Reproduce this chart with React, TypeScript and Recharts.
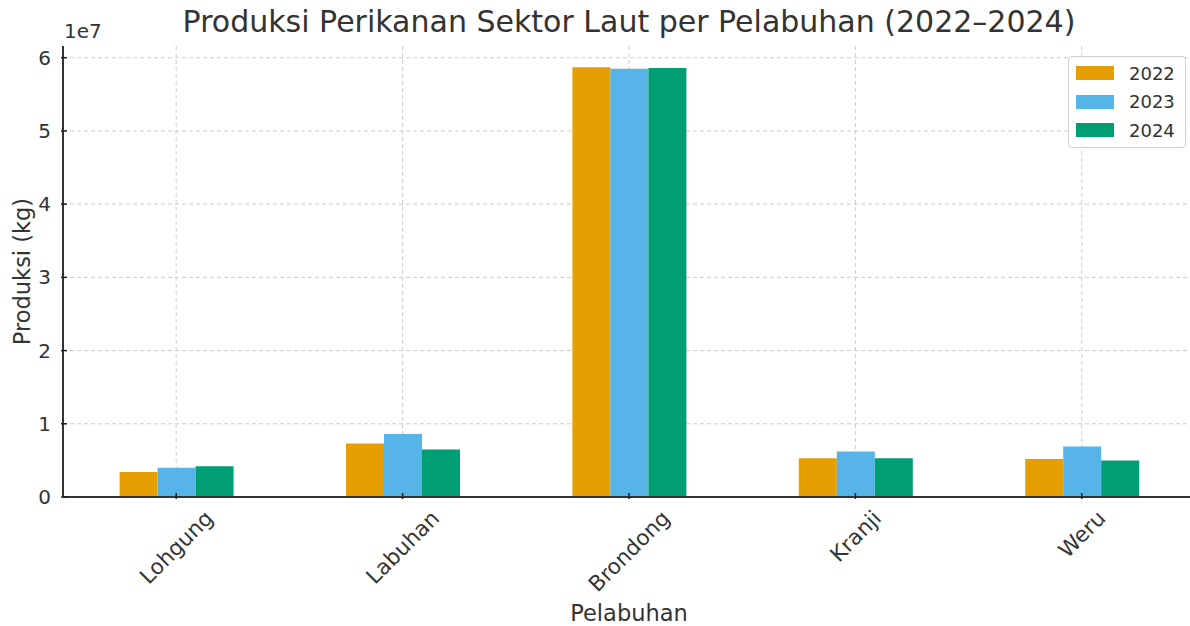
import { Bar, BarChart, CartesianGrid, Label, XAxis, YAxis } from 'recharts'

const PORTS = ['Lohgung', 'Labuhan', 'Brondong', 'Kranji', 'Weru']
const Y2022 = [3400000, 7300000, 58700000, 5300000, 5200000]
const Y2023 = [4000000, 8600000, 58500000, 6200000, 6900000]
const Y2024 = [4200000, 6500000, 58600000, 5300000, 5000000]
const Y_TICKS = [0, 10000000, 20000000, 30000000, 40000000, 50000000, 60000000]
const Y_MAX = 61600000

const SERIES = [
  { key: 'y2022', name: '2022', color: '#E69F00' },
  { key: 'y2023', name: '2023', color: '#56B4E9' },
  { key: 'y2024', name: '2024', color: '#009E73' },
]

const data = PORTS.map((port, i) => ({
  port,
  y2022: Y2022[i],
  y2023: Y2023[i],
  y2024: Y2024[i],
}))

const FONT = '"DejaVu Sans", sans-serif'
const TEXT = '#333'
const TICK_FONT = 21.5

let ctx: CanvasRenderingContext2D | null = null
function textWidth(s: string) {
  if (!ctx) ctx = document.createElement('canvas').getContext('2d')
  if (!ctx) return s.length * TICK_FONT * 0.6
  ctx.font = `${TICK_FONT}px "DejaVu Sans"`
  return ctx.measureText(s).width
}

// grid only at the y ticks (no line along the top edge)
function gridRows({ yAxis, offset }: any) {
  let pts: number[]
  if (yAxis && typeof yAxis.scale === 'function') pts = Y_TICKS.map((t) => yAxis.scale(t))
  else pts = Y_TICKS.map((t) => offset.top + offset.height * (1 - t / Y_MAX))
  return pts.filter((p) => p > offset.top + 2)
}

// matplotlib-style rotation: the rotated box is centred on the tick and hangs from a fixed top
function XTick({ x, y, payload }: any) {
  const w = textWidth(String(payload.value))
  const h = TICK_FONT * 0.95
  const cy = y + 8 + (0.7071 * (w + h)) / 2
  return (
    <g>
      <line x1={x} x2={x} y1={y} y2={y - 6} stroke="#222" strokeWidth={1.5} />
      <text
        x={x}
        y={cy}
        transform={`rotate(-45 ${x} ${cy})`}
        textAnchor="middle"
        dominantBaseline="central"
        fontSize={TICK_FONT}
        fill={TEXT}
        fontFamily={FONT}
      >
        {payload.value}
      </text>
    </g>
  )
}

function YTick({ x, y, payload }: any) {
  return (
    <g>
      <line x1={x} x2={x + 6} y1={y} y2={y} stroke="#222" strokeWidth={1.5} />
      <text
        x={x - 10}
        y={y}
        textAnchor="end"
        dominantBaseline="central"
        fontSize={20}
        fill={TEXT}
        fontFamily={FONT}
      >
        {payload.value / 10000000}
      </text>
    </g>
  )
}

export default function App() {
  return (
    <div
      style={{
        position: 'absolute',
        left: 0,
        top: 0,
        width: 1190,
        height: 626,
        overflow: 'hidden',
        background: '#fff',
        fontFamily: FONT,
      }}
    >
      <div
        style={{
          position: 'absolute',
          top: 5,
          left: 0,
          width: 1258,
          textAlign: 'center',
          fontSize: 30,
          lineHeight: '34px',
          color: TEXT,
          zIndex: 2,
        }}
      >
        Produksi Perikanan Sektor Laut per Pelabuhan (2022–2024)
      </div>
      <div
        style={{
          position: 'absolute',
          top: 20,
          left: 64,
          fontSize: 20,
          lineHeight: '22px',
          color: TEXT,
          zIndex: 2,
        }}
      >
        1e7
      </div>
      <div
        style={{
          position: 'absolute',
          top: 56,
          left: 1068,
          zIndex: 2,
          border: '1px solid #d0d0d0',
          borderRadius: 4,
          background: 'rgba(255,255,255,0.85)',
          padding: '2px 10px 2px 7px',
          fontSize: 18,
          color: TEXT,
        }}
      >
        {SERIES.map((s) => (
          <div key={s.key} style={{ display: 'flex', alignItems: 'center', height: 28.5 }}>
            <span style={{ width: 38, height: 14, background: s.color, marginRight: 15 }} />
            <span>{s.name}</span>
          </div>
        ))}
      </div>
      <BarChart
        width={1200}
        height={626}
        data={data}
        margin={{ top: 46, right: 5, left: 0, bottom: 0 }}
        barCategoryGap="25%"
        barGap={0}
      >
        <CartesianGrid stroke="#cccccc" strokeDasharray="4 3" horizontal={false} />
        <CartesianGrid stroke="#cccccc" strokeDasharray="4 3" vertical={false} horizontalCoordinatesGenerator={gridRows} />
        <XAxis
          dataKey="port"
          height={129}
          tick={<XTick />}
          tickLine={false}
          tickSize={0}
          axisLine={{ stroke: '#333', strokeWidth: 2 }}
          interval={0}
        >
          <Label value="Pelabuhan" position="insideBottom" offset={5} fontSize={22.5} fill={TEXT} fontFamily={FONT} />
        </XAxis>
        <YAxis
          width={63}
          domain={[0, Y_MAX]}
          ticks={Y_TICKS}
          tick={<YTick />}
          tickLine={false}
          tickSize={0}
          axisLine={{ stroke: '#333', strokeWidth: 2 }}
          allowDataOverflow
        >
          <Label
            value="Produksi (kg)"
            angle={-90}
            position="center"
            dx={-9}
            fontSize={22.5}
            fill={TEXT}
            fontFamily={FONT}
          />
        </YAxis>
        {SERIES.map((s) => (
          <Bar key={s.key} dataKey={s.key} name={s.name} fill={s.color} isAnimationActive={false} />
        ))}
      </BarChart>
    </div>
  )
}
